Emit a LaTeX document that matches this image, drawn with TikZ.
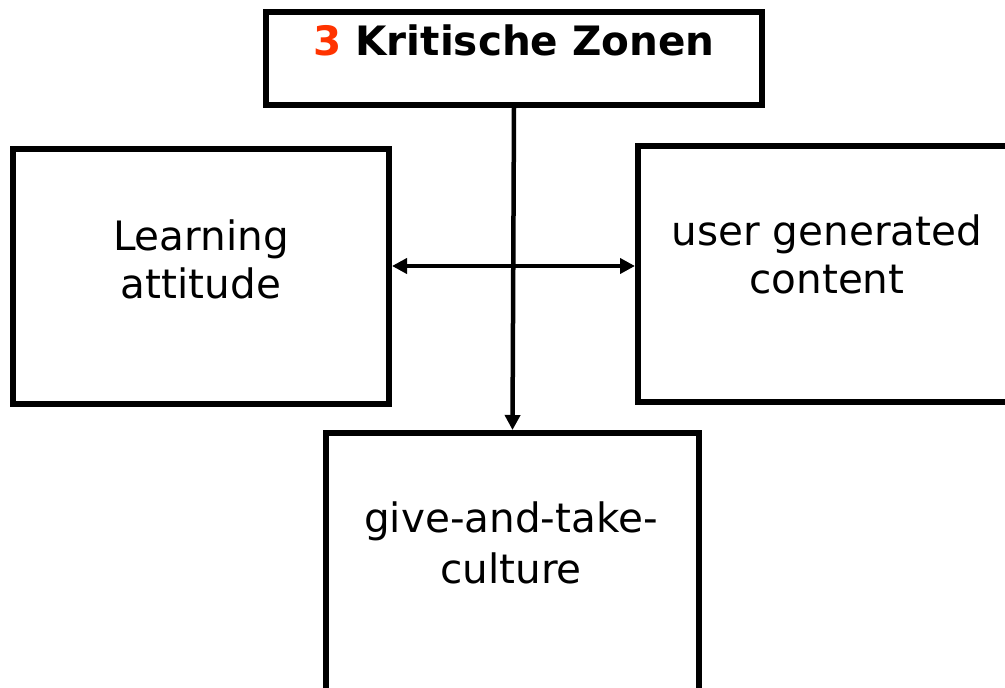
\documentclass[tikz,border=0pt]{standalone}
\usepackage{fontspec}
\setmainfont{DejaVu Sans}
\usetikzlibrary{arrows.meta}
\definecolor{zonered}{RGB}{255,51,0}
\tikzset{
  x=1pt, y=-1pt,
  zonebox/.style={draw=black, line width=6pt, fill=white, rectangle, inner sep=0pt},
  lbl/.style={anchor=base, inner sep=0pt, font=\fontsize{40.5}{48}\selectfont},
  link/.style={line width=4.5pt, -{Triangle[length=15pt,width=15pt]}},
  duallink/.style={line width=4.5pt, {Triangle[length=15pt,width=15pt]}-{Triangle[length=15pt,width=15pt]}}
}
\begin{document}
\begin{tikzpicture}
\useasboundingbox (0,0) rectangle (1005,688);
\clip (0,0) rectangle (1005,688);

% boxes
\node[zonebox, minimum width=496pt, minimum height=93pt] (top) at (514,58) {};
\node[zonebox, minimum width=376pt, minimum height=255pt] (left) at (201,276.5) {};
\node[zonebox, minimum width=384pt, minimum height=256pt] (right) at (830,274) {};
\node[zonebox, minimum width=373pt, minimum height=290pt] (bottom) at (512.5,578) {};

% labels
\node[lbl, font=\fontsize{40.5}{48}\selectfont\bfseries] (title) at (514,55) {\textcolor{zonered}{3} Kritische Zonen};
\node[lbl] (left1) at (201,250) {Learning};
\node[lbl] (left2) at (201,298) {attitude};
\node[lbl] (right1) at (827,245) {user generated};
\node[lbl] (right2) at (827,293) {content};
\node[lbl] (bottom1) at (511,532) {give-and-take-};
\node[lbl] (bottom2) at (511,583) {culture};

% connectors
\draw[link] (top.south) -- (bottom.north);
\draw[duallink] ([yshift=10.5pt]left.east) -- ([yshift=8pt]right.west);
\end{tikzpicture}
\end{document}
